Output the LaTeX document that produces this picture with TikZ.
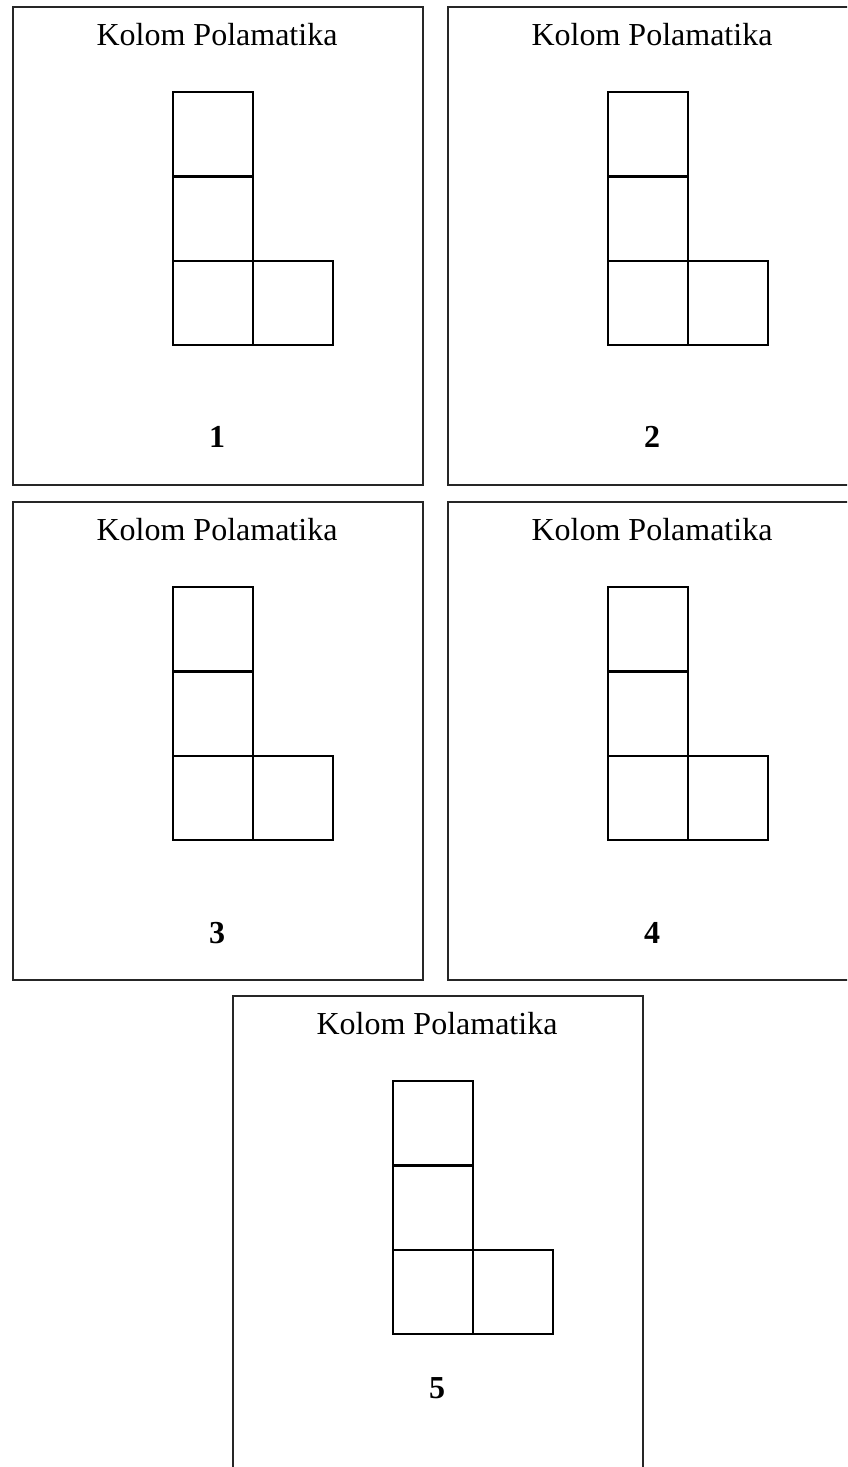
\documentclass[tikz,border=0pt]{standalone}
\usepackage{fontspec}
\setmainfont{Liberation Serif}
\begin{document}
\begin{tikzpicture}[x=1pt,y=-1pt,
  panel/.style={draw=black!85, line width=1.6pt, rectangle, anchor=north west,
    minimum width=410pt, minimum height=#1, inner sep=0pt},
  panel/.default=478pt,
  cell/.style={draw=black, line width=2.3pt, rectangle, anchor=north west,
    minimum width=80pt, minimum height=84.33pt, inner sep=0pt},
  title/.style={font=\fontsize{32}{38}\selectfont, anchor=base, inner sep=0pt},
  num/.style={font=\fontsize{32}{38}\selectfont\bfseries, inner sep=0pt}]
\useasboundingbox (0,0) rectangle (847,1467);
\clip (0,0) rectangle (847,1467);
\foreach \n/\px/\py/\ly/\ph in {1/12/6/431/478pt, 2/447/6/431/478pt, 3/12/501/432/478pt, 4/447/501/432/478pt, 5/232/995/393/600pt} {
  \node[panel=\ph] (p\n) at (\px,\py) {};
  \node[title] (t\n) at ({\px+205},{\py+39}) {Kolom Polamatika};
  \node[cell] (a\n) at ({\px+160},{\py+85}) {};
  \node[cell] (b\n) at ({\px+160},{\py+169.33}) {};
  \node[cell] (c\n) at ({\px+160},{\py+253.67}) {};
  \node[cell] (d\n) at ({\px+240},{\py+253.67}) {};
  \node[num] (n\n) at ({\px+205},{\py+\ly}) {\n};
}
\end{tikzpicture}
\end{document}
